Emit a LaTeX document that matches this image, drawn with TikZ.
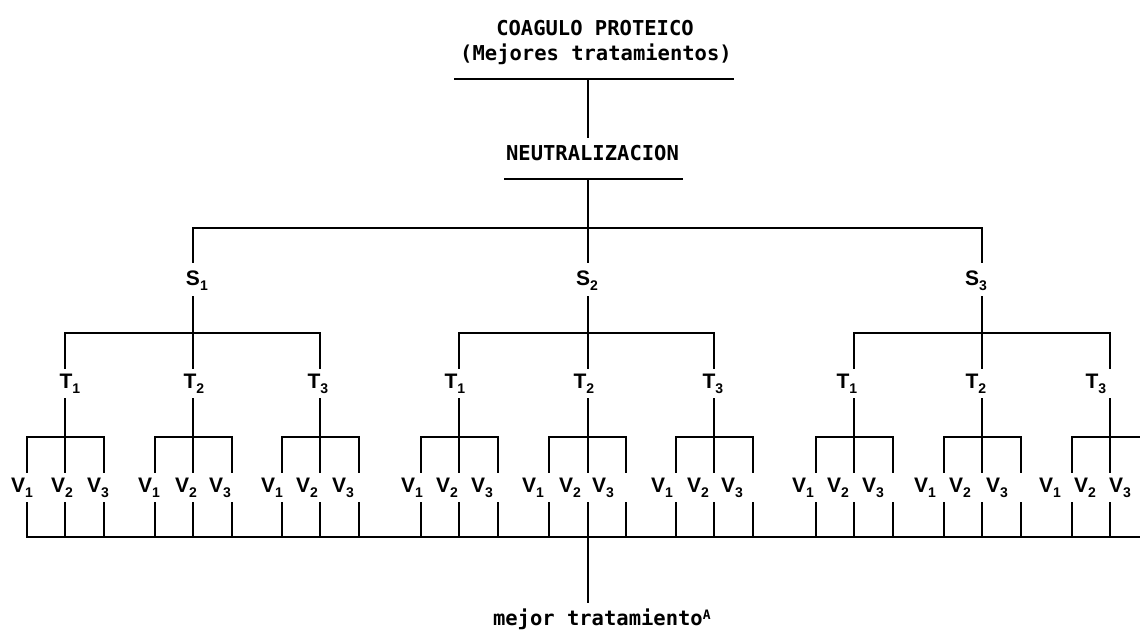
\documentclass[tikz,border=0pt]{standalone}
\usepackage{fontspec}
\setmainfont{Liberation Sans}
\newfontfamily\monof{DejaVu Sans Mono}
\newcommand{\labst}[2]{#1\rlap{\raisebox{-5pt}{\fontsize{14}{14}\selectfont #2}}}
\newcommand{\labvv}[2]{#1\raisebox{-5pt}{\fontsize{14}{14}\selectfont #2}}
\begin{document}
\begin{tikzpicture}[x=1pt,y=-1pt,line width=2pt,line cap=rect,
  mono/.style={font=\monof\bfseries\fontsize{20.5}{25}\selectfont,inner sep=0pt,anchor=base},
  slab/.style={font=\bfseries\fontsize{21}{21}\selectfont,anchor=base,inner xsep=0pt,inner ysep=7pt,text height=15pt,text depth=4pt},
  tvlab/.style={font=\bfseries\fontsize{21}{21}\selectfont,anchor=base,inner xsep=0pt,inner ysep=4pt,text height=15pt,text depth=6pt}]
\clip (0,0) rectangle (1140,637);
\fill[white] (0,0) rectangle (1140,637);
% title
\node[mono] (t1) at (595,35) {COAGULO PROTEICO};
\node[mono] (t2) at (596,60) {(Mejores tratamientos)};
\coordinate (ul) at (455,79);
\coordinate (ur) at (733,79);
\draw (ul) -- (ur);
\coordinate (c1) at (587.5,79);
\node[mono,inner ysep=7pt] (neu) at (592.5,160) {NEUTRALIZACION};
\draw (c1) -- (c1 |- neu.north);
\coordinate (nl) at (505,179);
\coordinate (nr) at (682,179);
\draw (nl) -- (nr);
\coordinate (c2) at (587.5,179);
% S level
\foreach \i/\sx/\lx in {1/193/193,2/587.5/583,3/982/972}{
  \coordinate (sb\i) at (\sx,228);
  \coordinate (tb\i) at (\sx,333);
  \node[slab] (S\i) at (\lx,285) {\labst{S}{\i}};
  \draw (sb\i) -- (sb\i |- S\i.north);
  \draw (sb\i |- S\i.south) -- (tb\i);
}
\draw (c2) -- (sb2);
\draw (sb1) -- (sb3);
% T and V levels
\foreach \i/\j/\tx/\tl/\va/\vb/\vc in {1/1/65/66/22/62/98,1/2/193/190/149/186/220,1/3/320/314/272/307/343,2/1/459/451/412/447/482,2/2/587.5/580/533/570/603,2/3/714/709/662/698/732,3/1/854/843/803/838/873,3/2/982/972/925/960/997,3/3/1110/1092/1050/1085/1120}{
  \coordinate (tt\i\j) at (\tx,333);
  \coordinate (vb\i\j) at (\tx,437);
  \node[tvlab] (T\i\j) at (\tl,388) {\labst{T}{\j}};
  \draw (tt\i\j) -- (tt\i\j |- T\i\j.north);
  \draw (tt\i\j |- T\i\j.south) -- (vb\i\j);
  \foreach \k/\vl in {1/\va,2/\vb,3/\vc}{
    \pgfmathsetmacro\vx{\tx+(\k-2)*38.5}
    \coordinate (vt\i\j\k) at (\vx,437);
    \coordinate (bt\i\j\k) at (\vx,537);
    \node[tvlab] (V\i\j\k) at (\vl,492) {\labvv{V}{\k}};
    \draw (vt\i\j\k) -- (vt\i\j\k |- V\i\j\k.north);
    \draw (vt\i\j\k |- V\i\j\k.south) -- (bt\i\j\k);
  }
  \draw (vt\i\j1) -- (vt\i\j3);
}
\foreach \i in {1,2,3}{\draw (tt\i1) -- (tt\i3);}
\draw (bt111) -- (bt333);
% result
\node[mono,anchor=base west,inner ysep=5pt] (best) at (492,625) {mejor tratamiento\raisebox{6pt}{\fontsize{13}{13}\selectfont A}};
\draw (bt222) -- (bt222 |- best.north);
\end{tikzpicture}
\end{document}
